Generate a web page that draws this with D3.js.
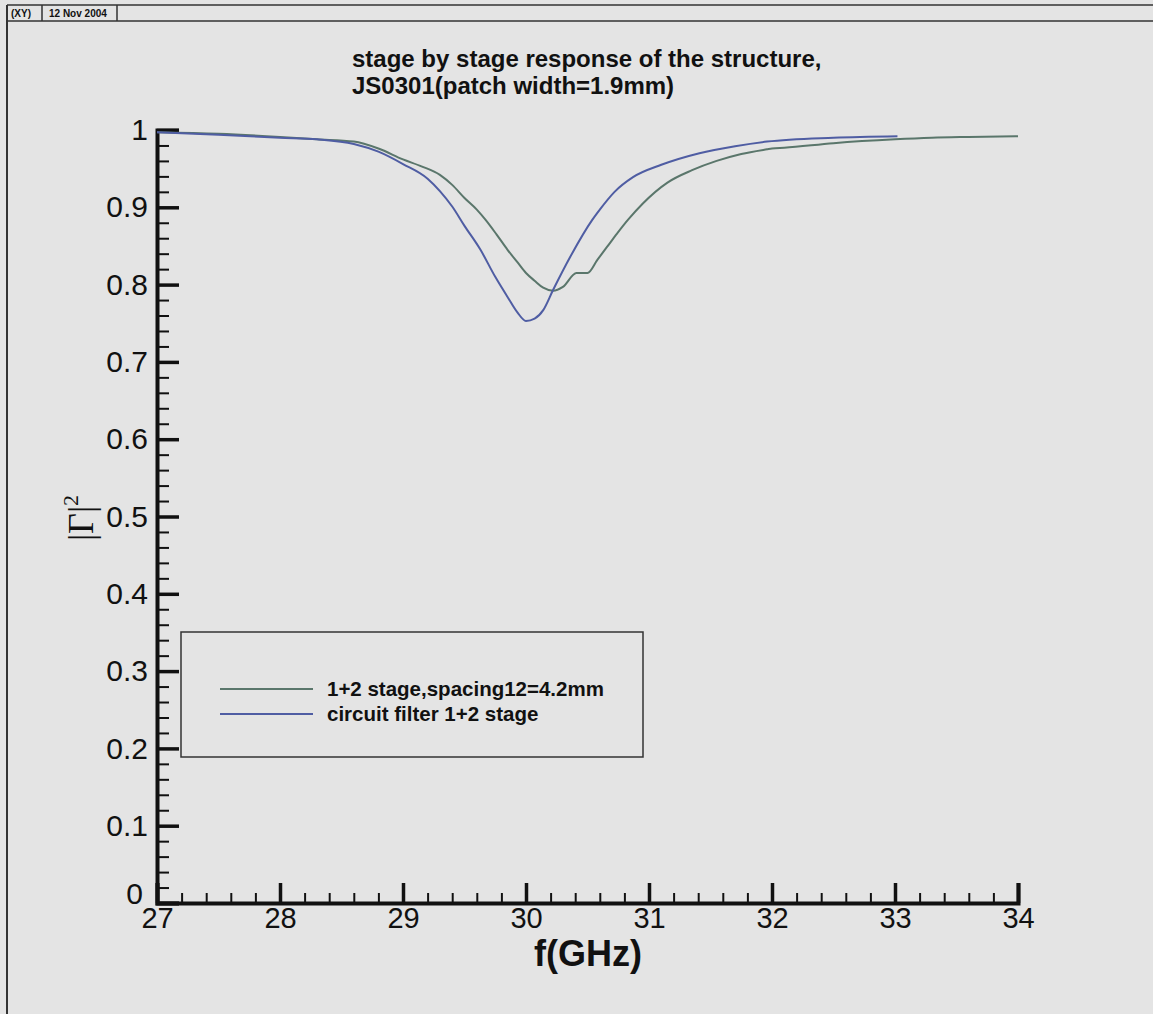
<!DOCTYPE html>
<html>
<head>
<meta charset="utf-8">
<script src="https://cdn.jsdelivr.net/npm/d3@7"></script>
<style>
  html, body { margin: 0; padding: 0; background: #e4e4e4; }
  svg { display: block; }
  text { font-family: "Liberation Sans", Arial, Helvetica, sans-serif; fill: #111; }
</style>
</head>
<body>
<svg id="chart" width="1153" height="1014"></svg>
<script>
// Reflection coefficient |Γ|² vs frequency (GHz)
const measuredFreq = [27.0, 27.5, 28.0, 28.3, 28.6, 28.8, 29.0, 29.15, 29.3, 29.4, 29.5, 29.6, 29.67, 29.76, 29.85, 29.93, 30.0, 30.07, 30.14, 30.22, 30.3, 30.41, 30.5, 30.58, 30.66, 30.74, 30.83, 30.95, 31.15, 31.35, 31.55, 31.75, 31.96, 32.0, 32.1, 32.5, 33.0, 33.3, 33.6, 34.0];
const measuredGamma = [0.997, 0.995, 0.991, 0.988, 0.985, 0.976, 0.962, 0.953, 0.942, 0.929, 0.912, 0.897, 0.884, 0.865, 0.845, 0.829, 0.815, 0.805, 0.796, 0.792, 0.797, 0.815, 0.815, 0.832, 0.849, 0.866, 0.884, 0.905, 0.932, 0.948, 0.960, 0.969, 0.975, 0.976, 0.977, 0.983, 0.988, 0.990, 0.991, 0.992];

const circuitFreq = [27.0, 27.5, 28.0, 28.3, 28.6, 28.8, 29.0, 29.2, 29.3, 29.4, 29.5, 29.63, 29.75, 29.85, 29.93, 30.0, 30.07, 30.14, 30.22, 30.36, 30.54, 30.6, 30.72, 30.87, 31.1, 31.41, 31.7, 31.96, 32.5, 33.02];
const circuitGamma = [0.997, 0.994, 0.990, 0.988, 0.982, 0.972, 0.956, 0.937, 0.921, 0.901, 0.876, 0.845, 0.810, 0.784, 0.764, 0.753, 0.756, 0.767, 0.793, 0.836, 0.884, 0.897, 0.920, 0.939, 0.955, 0.970, 0.979, 0.985, 0.990, 0.992];

const seriesNames = ["1+2 stage,spacing12=4.2mm", "circuit filter 1+2 stage"];
const seriesColors = ["#5a766b", "#4f5da3"];

const xTicks = [27, 28, 29, 30, 31, 32, 33, 34];
const yTicks = [0, 0.1, 0.2, 0.3, 0.4, 0.5, 0.6, 0.7, 0.8, 0.9, 1];

const titleLines = ["stage by stage response of the structure,", "JS0301(patch width=1.9mm)"];
const xTitle = "f(GHz)";
const headerCells = ["(XY)", "12 Nov 2004"];

const svg = d3.select("#chart");
const W = 1153, H = 1014;

const x = d3.scaleLinear().domain([27, 34]).range([157, 1018]);
const y = d3.scaleLinear().domain([0, 1]).range([903, 130]);

// page frame and header strip
const frame = svg.append("g").attr("fill", "none").attr("stroke", "#333");
frame.append("line").attr("x1", 7).attr("x2", W).attr("y1", 5).attr("y2", 5).attr("stroke-width", 1.5);
frame.append("line").attr("x1", 7).attr("x2", W).attr("y1", 21).attr("y2", 21).attr("stroke-width", 1.5);
frame.append("line").attr("x1", 7).attr("x2", 7).attr("y1", 5).attr("y2", H).attr("stroke-width", 2);
frame.append("line").attr("x1", 42).attr("x2", 42).attr("y1", 5).attr("y2", 21).attr("stroke-width", 1.5);
frame.append("line").attr("x1", 117).attr("x2", 117).attr("y1", 5).attr("y2", 21).attr("stroke-width", 1.5);
svg.append("text").attr("x", 11).attr("y", 17).attr("font-size", 10).attr("font-weight", "bold").text(headerCells[0]);
svg.append("text").attr("x", 49).attr("y", 17).attr("font-size", 10).attr("font-weight", "bold").text(headerCells[1]);

// title
svg.append("g").selectAll("text").data(titleLines).join("text")
  .attr("x", 352).attr("y", (d, i) => 67 + i * 27)
  .attr("font-size", 24).attr("font-weight", "bold")
  .text(d => d);

// axes with inward ticks
const fmtY = d => d === 0 ? "0" : d === 1 ? "1" : d3.format(".1f")(d);
const yMinor = d3.range(0, 1.0001, 0.02).filter(v => Math.abs(v * 10 - Math.round(v * 10)) > 1e-6);
const xMinor = d3.range(27, 34.0001, 0.2).filter(v => Math.abs(v - Math.round(v)) > 1e-6);

const gy = svg.append("g").attr("transform", `translate(${x(27)},0)`);
gy.call(d3.axisLeft(y).tickValues(yMinor).tickSize(-12).tickFormat(""));
gy.selectAll(".tick line").attr("stroke", "#111").attr("stroke-width", 2);
gy.select(".domain").remove();
const gyMaj = svg.append("g").attr("transform", `translate(${x(27)},0)`);
gyMaj.call(d3.axisLeft(y).tickValues(yTicks).tickSize(-22).tickPadding(9).tickFormat(fmtY));
gyMaj.selectAll(".tick line").attr("stroke", "#111").attr("stroke-width", 3.5);
gyMaj.selectAll(".tick text").attr("font-size", 30).attr("font-family", "Liberation Sans, Arial, sans-serif").attr("fill", "#111");
gyMaj.selectAll(".tick text").filter(d => d === 0).attr("dy", "0.02em").attr("x", -14);
gyMaj.select(".domain").attr("stroke", "#111").attr("stroke-width", 4);

const gx = svg.append("g").attr("transform", `translate(0,${y(0)})`);
gx.call(d3.axisBottom(x).tickValues(xMinor).tickSize(-10).tickFormat(""));
gx.selectAll(".tick line").attr("stroke", "#111").attr("stroke-width", 2);
gx.select(".domain").remove();
const gxMaj = svg.append("g").attr("transform", `translate(0,${y(0)})`);
gxMaj.call(d3.axisBottom(x).tickValues(xTicks).tickSize(-20).tickPadding(4).tickFormat(d3.format("d")));
gxMaj.selectAll(".tick line").attr("stroke", "#111").attr("stroke-width", 3.5);
gxMaj.selectAll(".tick text").attr("font-size", 29).attr("font-family", "Liberation Sans, Arial, sans-serif").attr("fill", "#111");
gxMaj.select(".domain").attr("stroke", "#111").attr("stroke-width", 4);

// axis titles
svg.append("text").attr("x", 588).attr("y", 966).attr("text-anchor", "middle")
  .attr("font-size", 36).attr("font-weight", "bold").text(xTitle);

const yLab = svg.append("text")
  .attr("transform", "translate(93,518) rotate(-90)")
  .attr("text-anchor", "middle")
  .style("font-family", "'Liberation Serif', 'Times New Roman', serif")
  .attr("font-size", 36);
yLab.append("tspan").text("|Γ|");
yLab.append("tspan").attr("dy", -15).attr("font-size", 22).text("2");

// curves
const line = d3.line().x(d => x(d[0])).y(d => y(d[1])).curve(d3.curveMonotoneX);
const series = [
  d3.zip(measuredFreq, measuredGamma),
  d3.zip(circuitFreq, circuitGamma)
];
svg.append("g").selectAll("path").data(series).join("path")
  .attr("d", line)
  .attr("fill", "none")
  .attr("stroke", (d, i) => seriesColors[i])
  .attr("stroke-width", 2);

// legend
const lg = svg.append("g");
lg.append("rect").attr("x", 181).attr("y", 632).attr("width", 462).attr("height", 125)
  .attr("fill", "none").attr("stroke", "#333").attr("stroke-width", 1.5);
const items = lg.selectAll("g.item").data(seriesNames).join("g").attr("class", "item")
  .attr("transform", (d, i) => `translate(0,${689 + i * 25})`);
items.append("line").attr("x1", 220).attr("x2", 313).attr("y1", 0).attr("y2", 0)
  .attr("stroke", (d, i) => seriesColors[i]).attr("stroke-width", 2);
items.append("text").attr("x", 327).attr("y", 7).attr("font-size", 20.5).attr("font-weight", "bold").text(d => d);
</script>
</body>
</html>
